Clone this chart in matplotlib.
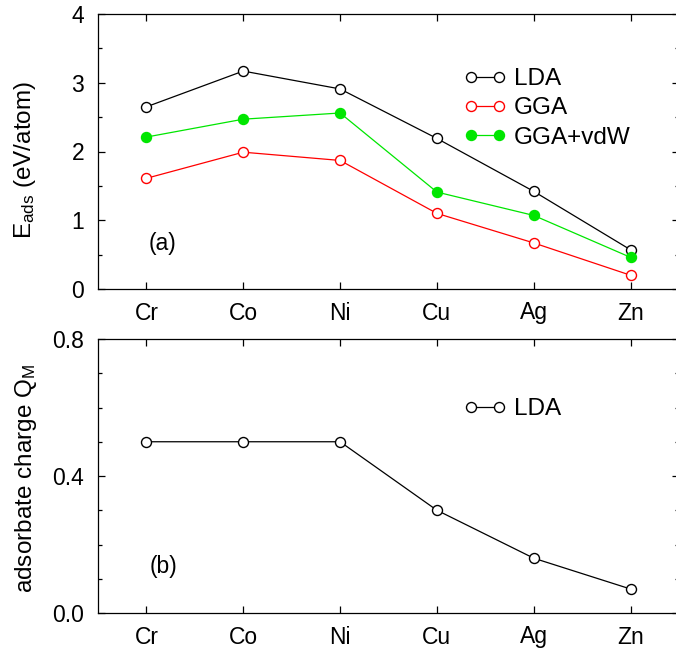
import matplotlib
matplotlib.use("Agg")
import matplotlib.pyplot as plt
from matplotlib.legend_handler import HandlerLine2D
from matplotlib.lines import Line2D
from matplotlib.ticker import MultipleLocator, FormatStrFormatter

plt.rcParams['font.family'] = ['Liberation Sans', 'DejaVu Sans']
plt.rcParams['mathtext.fontset'] = 'custom'
plt.rcParams['mathtext.rm'] = 'Liberation Sans'
plt.rcParams['mathtext.it'] = 'Liberation Sans:italic'

metals = ['Cr', 'Co', 'Ni', 'Cu', 'Ag', 'Zn']
e_lda = [2.65, 3.17, 2.91, 2.19, 1.42, 0.57]
e_gga = [1.61, 1.99, 1.87, 1.10, 0.67, 0.20]
e_vdw = [2.21, 2.47, 2.56, 1.41, 1.07, 0.46]
q_lda = [0.50, 0.50, 0.50, 0.30, 0.16, 0.07]

GREEN = '#00e600'
x = list(range(len(metals)))

fig = plt.figure(figsize=(6.76, 6.52), dpi=100)
W, H = 676, 652
left, right = 98, 679
ax1 = fig.add_axes([left / W, 1 - 289 / H, (right - left) / W, (289 - 14) / H])
ax2 = fig.add_axes([left / W, 1 - 613 / H, (right - left) / W, (613 - 339) / H])

mk = dict(marker='o', markersize=7.2, linewidth=0.9, markeredgewidth=1.0)

ax1.plot(x, e_lda, color='black', markerfacecolor='white', markeredgecolor='black', label='LDA', **mk)
ax1.plot(x, e_gga, color='#ff0000', markerfacecolor='white', markeredgecolor='#ff0000', label='GGA', **mk)
ax1.plot(x, e_vdw, color=GREEN, markerfacecolor=GREEN, markeredgecolor=GREEN, label='GGA+vdW', **mk)

ax2.plot(x, q_lda, color='black', markerfacecolor='white', markeredgecolor='black', label='LDA', **mk)

ax1.set_ylim(0, 4)
ax1.yaxis.set_major_locator(MultipleLocator(1))
ax1.yaxis.set_minor_locator(MultipleLocator(0.5))
ax2.set_ylim(0, 0.8)
ax2.yaxis.set_major_locator(MultipleLocator(0.4))
ax2.yaxis.set_minor_locator(MultipleLocator(0.1))
ax2.yaxis.set_major_formatter(FormatStrFormatter('%.1f'))

for ax in (ax1, ax2):
    ax.set_xlim(-0.5, 5.5)
    ax.set_xticks(x)
    ax.set_xticklabels(metals)
    ax.tick_params(which='both', direction='in', top=True, right=True, labelsize=16.5, width=0.9)
    ax.tick_params(which='major', length=5)
    ax.tick_params(which='minor', length=3)
    ax.tick_params(axis='y', which='major', pad=10)
    ax.tick_params(axis='x', which='major', pad=9)
    for s in ax.spines.values():
        s.set_linewidth(0.9)

ax1.set_ylabel(r'E$_{\mathrm{ads}}$ (eV/atom)', fontsize=17.5)
ax2.set_ylabel(r'adsorbate charge Q$_{\mathrm{M}}$', fontsize=17.5)
ax1.yaxis.set_label_coords(-0.103, 0.47)
ax2.yaxis.set_label_coords(-0.102, 0.49)

ax1.text(0.111, 0.167, '(a)', transform=ax1.transAxes, fontsize=16.5, ha='center', va='center')
ax2.text(0.113, 0.17, '(b)', transform=ax2.transAxes, fontsize=16.5, ha='center', va='center')

hm = {Line2D: HandlerLine2D(numpoints=2, marker_pad=0)}
leg_kw = dict(frameon=False, fontsize=17.5, handlelength=1.15, handletextpad=0.62,
              labelspacing=0.3, borderpad=0, borderaxespad=0, handler_map=hm)
ax1.legend(loc='upper left', bbox_to_anchor=((471 - left) / (right - left), 1 - (68 - 14) / 275), **leg_kw)
ax2.legend(loc='upper left', bbox_to_anchor=((471 - left) / (right - left), 1 - (398 - 339) / 274), **leg_kw)

fig.savefig('out.png', dpi=100)
